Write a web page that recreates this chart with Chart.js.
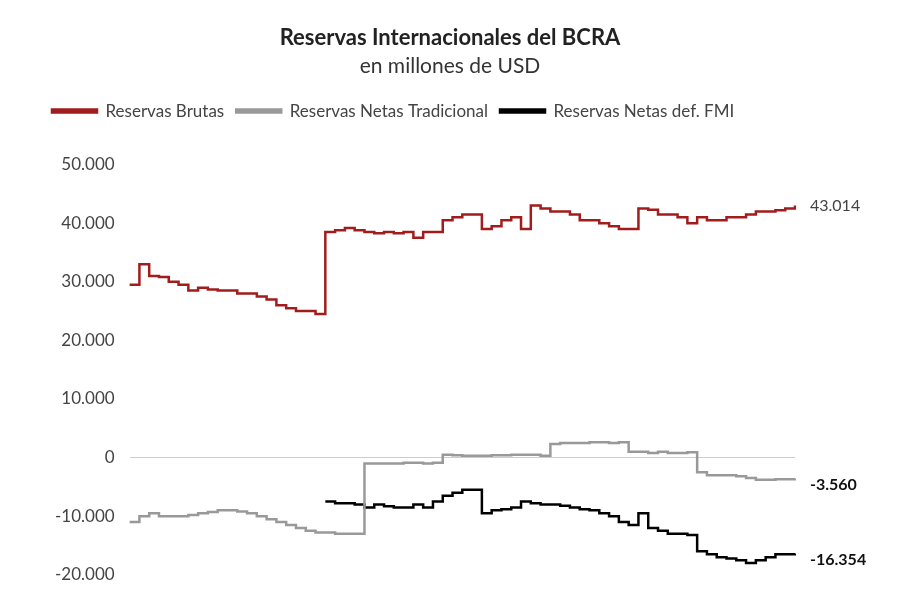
<!DOCTYPE html>
<html><head><meta charset="utf-8">
<script src="https://cdn.jsdelivr.net/npm/chart.js@4"></script>
<style>body{margin:0;background:#fff}#wrap{width:900px;height:600px}</style>
</head><body><div id="wrap"><canvas id="chartID"></canvas></div>
<script>
// valores (millones de USD)
const brutas = [29500,33000,31000,30800,30000,29500,28500,29000,28700,28500,28500,28000,28000,27500,27000,26000,25500,25000,25000,24500,
  38500,38800,39200,38800,38500,38300,38500,38300,38500,37500,38500,38500,40500,41000,41500,41500,39000,39500,40500,41000,39000,43000,
  42500,42000,42000,41500,40500,40500,40000,39500,39000,39000,42500,42300,41500,41500,41000,40000,41000,40500,40500,41000,41000,41500,
  42000,42000,42200,42500,43014]
const netasTrad = [-11000,-10000,-9500,-10000,-10000,-10000,-9800,-9500,-9300,-9000,-9000,-9200,-9500,-10000,-10500,-11000,-11500,-12000,-12500,-12800,
  -12800,-13000,-13000,-13000,-1000,-1000,-1000,-1000,-900,-900,-1000,-900,500,400,300,300,300,400,400,500,500,500,300,2300,2500,2500,2500,
  2600,2600,2500,2600,1000,1000,800,1000,800,800,900,-2500,-3000,-3000,-3000,-3200,-3500,-3800,-3800,-3700,-3700,-3560]
const netasFMI = [null,null,null,null,null,null,null,null,null,null,null,null,null,null,null,null,null,null,null,null,
  -7500,-7800,-7800,-8000,-8500,-8000,-8300,-8500,-8500,-8000,-8500,-7500,-6500,-6000,-5500,-5500,-9500,-9000,-8800,-8500,-7500,-7800,
  -8000,-8000,-8200,-8500,-8800,-9000,-9500,-10000,-11000,-11500,-9500,-12000,-12500,-13000,-13000,-13200,-16000,-16500,-17000,-17200,
  -17500,-18000,-17500,-17000,-16500,-16500,-16354]
const labels = brutas.map(() => '')

const fmt = v => v.toLocaleString('de-DE')
const font = 'Lato'

const endLabels = {
  id: 'endLabels',
  afterDatasetsDraw(chart) {
    const ctx = chart.ctx
    chart.data.datasets.forEach((ds, i) => {
      const meta = chart.getDatasetMeta(i)
      const pt = meta.data[meta.data.length - 1]
      ctx.save()
      ctx.font = (i === 0 ? '' : 'bold ') + '16px ' + font
      ctx.fillStyle = i === 0 ? '#444' : '#111'
      ctx.textBaseline = 'middle'
      ctx.fillText(fmt(ds.data[ds.data.length - 1]), pt.x + 15, pt.y + (i === 0 ? 0 : 6))
      ctx.restore()
    })
  }
}

// espacio extra debajo de la leyenda
const legendGap = {
  id: 'legendGap',
  beforeInit(chart) {
    const fit = chart.legend.fit
    chart.legend.fit = function() { fit.bind(chart.legend)(); this.height += 35 }
  }
}

new Chart(document.getElementById('chartID'), {
  type: 'line',
  data: {
    labels: labels,
    datasets: [
      { label: 'Reservas Brutas', data: brutas, borderColor: '#a11c1c', backgroundColor: '#a11c1c' },
      { label: 'Reservas Netas Tradicional', data: netasTrad, borderColor: '#999', backgroundColor: '#999' },
      { label: 'Reservas Netas def. FMI', data: netasFMI, borderColor: '#000', backgroundColor: '#000' },
    ],
  },
  options: {
    responsive: true,
    maintainAspectRatio: false,
    animation: false,
    layout: { padding: { left: 40, right: 40, top: 5, bottom: 8 } },
    elements: { point: { radius: 0 }, line: { borderWidth: 2.5, tension: 0, stepped: 'before' } },
    plugins: {
      title: { display: true, text: 'Reservas Internacionales del BCRA', color: '#222',
        font: { family: font, size: 22, weight: 'bold' }, padding: { top: 20, bottom: 0 } },
      subtitle: { display: true, text: 'en millones de USD', color: '#333',
        font: { family: font, size: 21 }, padding: { top: 2, bottom: 12 } },
      legend: { align: 'start', labels: { boxWidth: 45, boxHeight: 3, color: '#444',
        font: { family: font, size: 17 }, padding: 12 } },
      tooltip: { enabled: false },
    },
    scales: {
      x: { grid: { display: false }, border: { display: false }, ticks: { display: false } },
      y: {
        min: -20000, max: 50000,
        ticks: { stepSize: 10000, color: '#444', font: { family: font, size: 17 }, padding: 15, callback: v => fmt(v) },
        border: { display: false },
        grid: { drawTicks: false, color: ctx => ctx.tick.value === 0 ? '#ccc' : 'transparent' },
      },
      y2: {
        position: 'right', min: -20000, max: 50000,
        ticks: { display: false }, grid: { display: false }, border: { display: false },
        afterFit: a => { a.width = 65 },
      },
    },
  },
  plugins: [endLabels, legendGap],
})
</script></body></html>
